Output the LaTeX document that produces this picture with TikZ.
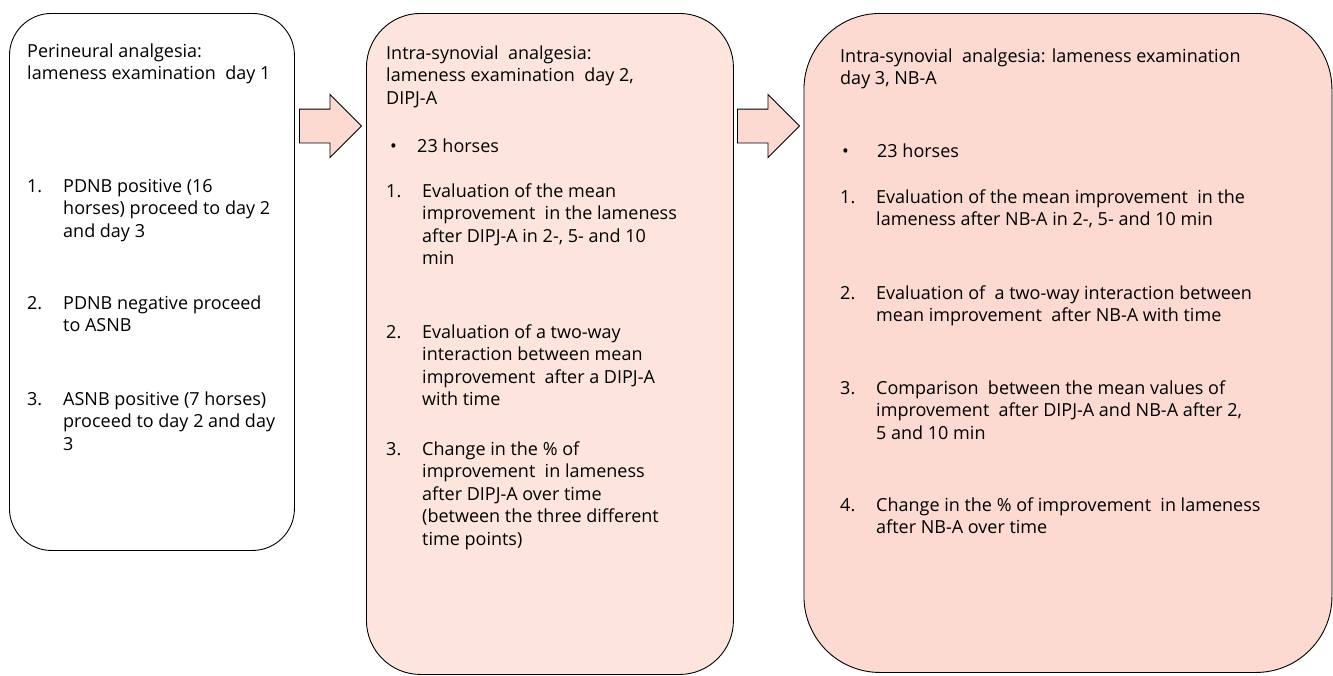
\documentclass[tikz,border=0pt]{standalone}
\usepackage{fontspec}
\setmainfont{Open Sans}
\usetikzlibrary{shapes.arrows}
\definecolor{boxpink}{HTML}{FDE5DE}
\definecolor{boxrose}{HTML}{FCD9D1}
\newcommand{\numline}[2]{\makebox[36pt][l]{#1}\begin{tabular}[t]{@{}l@{}}#2\end{tabular}}
\newcommand{\bulline}[2]{\makebox[#1][l]{\textbullet}#2}
\tikzset{
  daybox/.style={draw,line width=0.9pt,anchor=north west,inner sep=0},
  txt/.style={anchor=base west,inner sep=0,font=\fontsize{18}{22.6}\selectfont},
  blockarrow/.style={single arrow,draw,line width=0.9pt,fill=boxrose,anchor=tail,inner sep=0,
    text height=33pt,text depth=0pt,minimum height=62pt,single arrow head extend=14.5pt,single arrow head indent=0pt}
}
\begin{document}
\begin{tikzpicture}[x=1pt,y=-1pt]
        \useasboundingbox (0,0) rectangle (1333,675);
        % the three days
        \node[daybox,rounded corners=42pt,minimum width=285pt,minimum height=537pt] (day1) at (9,13) {};
        \node[daybox,rounded corners=54pt,fill=boxpink,minimum width=367pt,minimum height=661pt] (day2) at (366,13) {};
        \node[daybox,rounded corners=76pt,fill=boxrose,minimum width=528pt,minimum height=659pt] (day3) at (803.5,13) {};

        \node[blockarrow] (arr1) at (299,126) {};
        \node[blockarrow] (arr2) at (737,126) {};

        % day 1
        \node[txt] (d1head) at (27,57) {\begin{tabular}[t]{@{}l@{}}Perineural analgesia:\\lameness examination\ \ day 1\end{tabular}};
        \node[txt] (d1a) at (27,192) {\numline{1.}{PDNB positive (16\\horses) proceed to day 2\\and day 3}};
        \node[txt] (d1b) at (27,309) {\numline{2.}{PDNB negative proceed\\to ASNB}};
        \node[txt] (d1c) at (27,405) {\numline{3.}{ASNB positive (7 horses)\\proceed to day 2 and day\\3}};

        % day 2
        \node[txt] (d2head) at (386,59) {\begin{tabular}[t]{@{}l@{}}Intra-synovial\ \ analgesia:\\lameness examination\ \ day 2,\\DIPJ-A\end{tabular}};
        \node[txt] (d2n) at (390,152) {\bulline{27pt}{23 horses}};
        \node[txt] (d2a) at (386,197) {\numline{1.}{Evaluation of the mean\\improvement\ \ in the lameness\\after DIPJ-A in 2-, 5- and 10\\min}};
        \node[txt] (d2b) at (386,338) {\numline{2.}{Evaluation of a two-way\\interaction between mean\\improvement\ \ after a DIPJ-A\\with time}};
        \node[txt] (d2c) at (386,455) {\numline{3.}{Change in the \% of\\improvement\ \ in lameness\\after DIPJ-A over time\\(between the three different\\time points)}};

        % day 3
        \node[txt] (d3head) at (840,62) {\begin{tabular}[t]{@{}l@{}}Intra-synovial\ \ analgesia: lameness examination\\day 3, NB-A\end{tabular}};
        \node[txt] (d3n) at (842,157) {\bulline{35pt}{23 horses}};
        \node[txt] (d3a) at (840,203) {\numline{1.}{Evaluation of the mean improvement\ \ in the\\lameness after NB-A in 2-, 5- and 10 min}};
        \node[txt] (d3b) at (840,299) {\numline{2.}{Evaluation of\ \ a two-way interaction between\\mean improvement\ \ after NB-A with time}};
        \node[txt] (d3c) at (840,394) {\numline{3.}{Comparison\ \ between the mean values of\\improvement\ \ after DIPJ-A and NB-A after 2,\\5 and 10 min}};
        \node[txt] (d3d) at (840,511) {\numline{4.}{Change in the \% of improvement\ \ in lameness\\after NB-A over time}};
    \end{tikzpicture}
\end{document}
